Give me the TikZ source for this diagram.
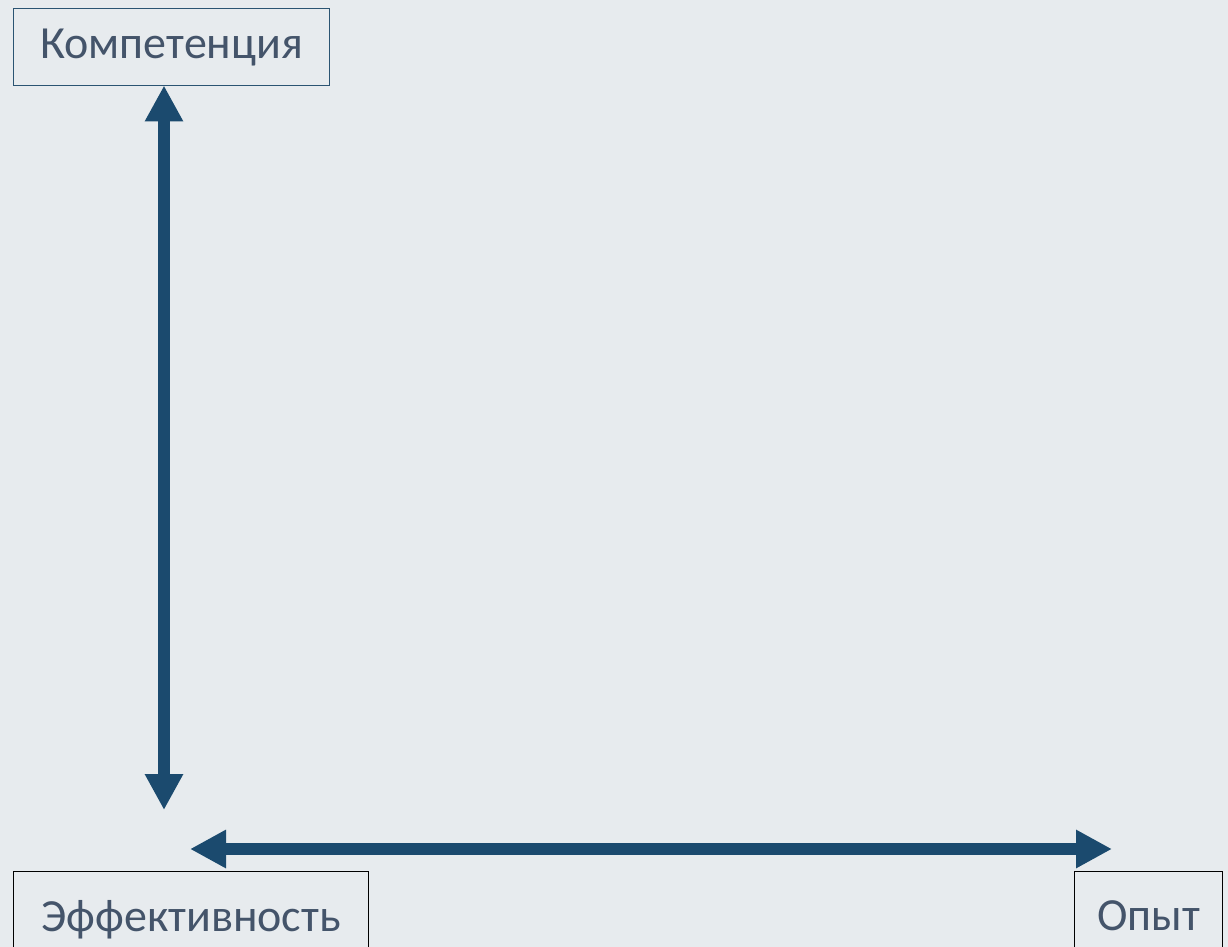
\documentclass[tikz,border=0pt]{standalone}
\usepackage{fontspec}
\setmainfont{Carlito}
\usetikzlibrary{arrows.meta}
\definecolor{bg}{HTML}{E7EBEE}
\definecolor{arrowc}{HTML}{1B4A6E}
\definecolor{txt}{HTML}{44546A}
\definecolor{boxblue}{HTML}{2B5472}
\begin{document}
\begin{tikzpicture}[x=1pt,y=-1pt,
  lbl/.style={draw, line width=1.3pt, rectangle, inner sep=0pt, text=txt,
    font=\fontsize{46}{50}\selectfont, anchor=north west},
  axis/.style={arrowc, line width=12pt,
    {Triangle[length=36pt,width=36pt]}-{Triangle[length=36pt,width=36pt]}}]
\useasboundingbox (0,0) rectangle (1228,947);
\clip (0,0) rectangle (1228,947);
\fill[bg] (0,0) rectangle (1228,947);
\node[lbl, draw=boxblue, minimum width=316pt, minimum height=77pt] (komp) at (13,8) {Компетенция};
\node[lbl, draw=black, minimum width=355pt, minimum height=88pt, text depth=-14pt] (eff) at (13,871) {Эффективность};
\node[lbl, draw=black, minimum width=148pt, minimum height=88pt, text depth=-14pt] (opyt) at (1074,871) {Опыт};
\coordinate (vtop) at (164,85.5);
\coordinate (vbot) at (164,810);
\coordinate (hl) at (190,849);
\coordinate (hr) at (1112,849);
\draw[axis] (vtop) -- (vbot);
\draw[axis] (hl) -- (hr);
\end{tikzpicture}
\end{document}
